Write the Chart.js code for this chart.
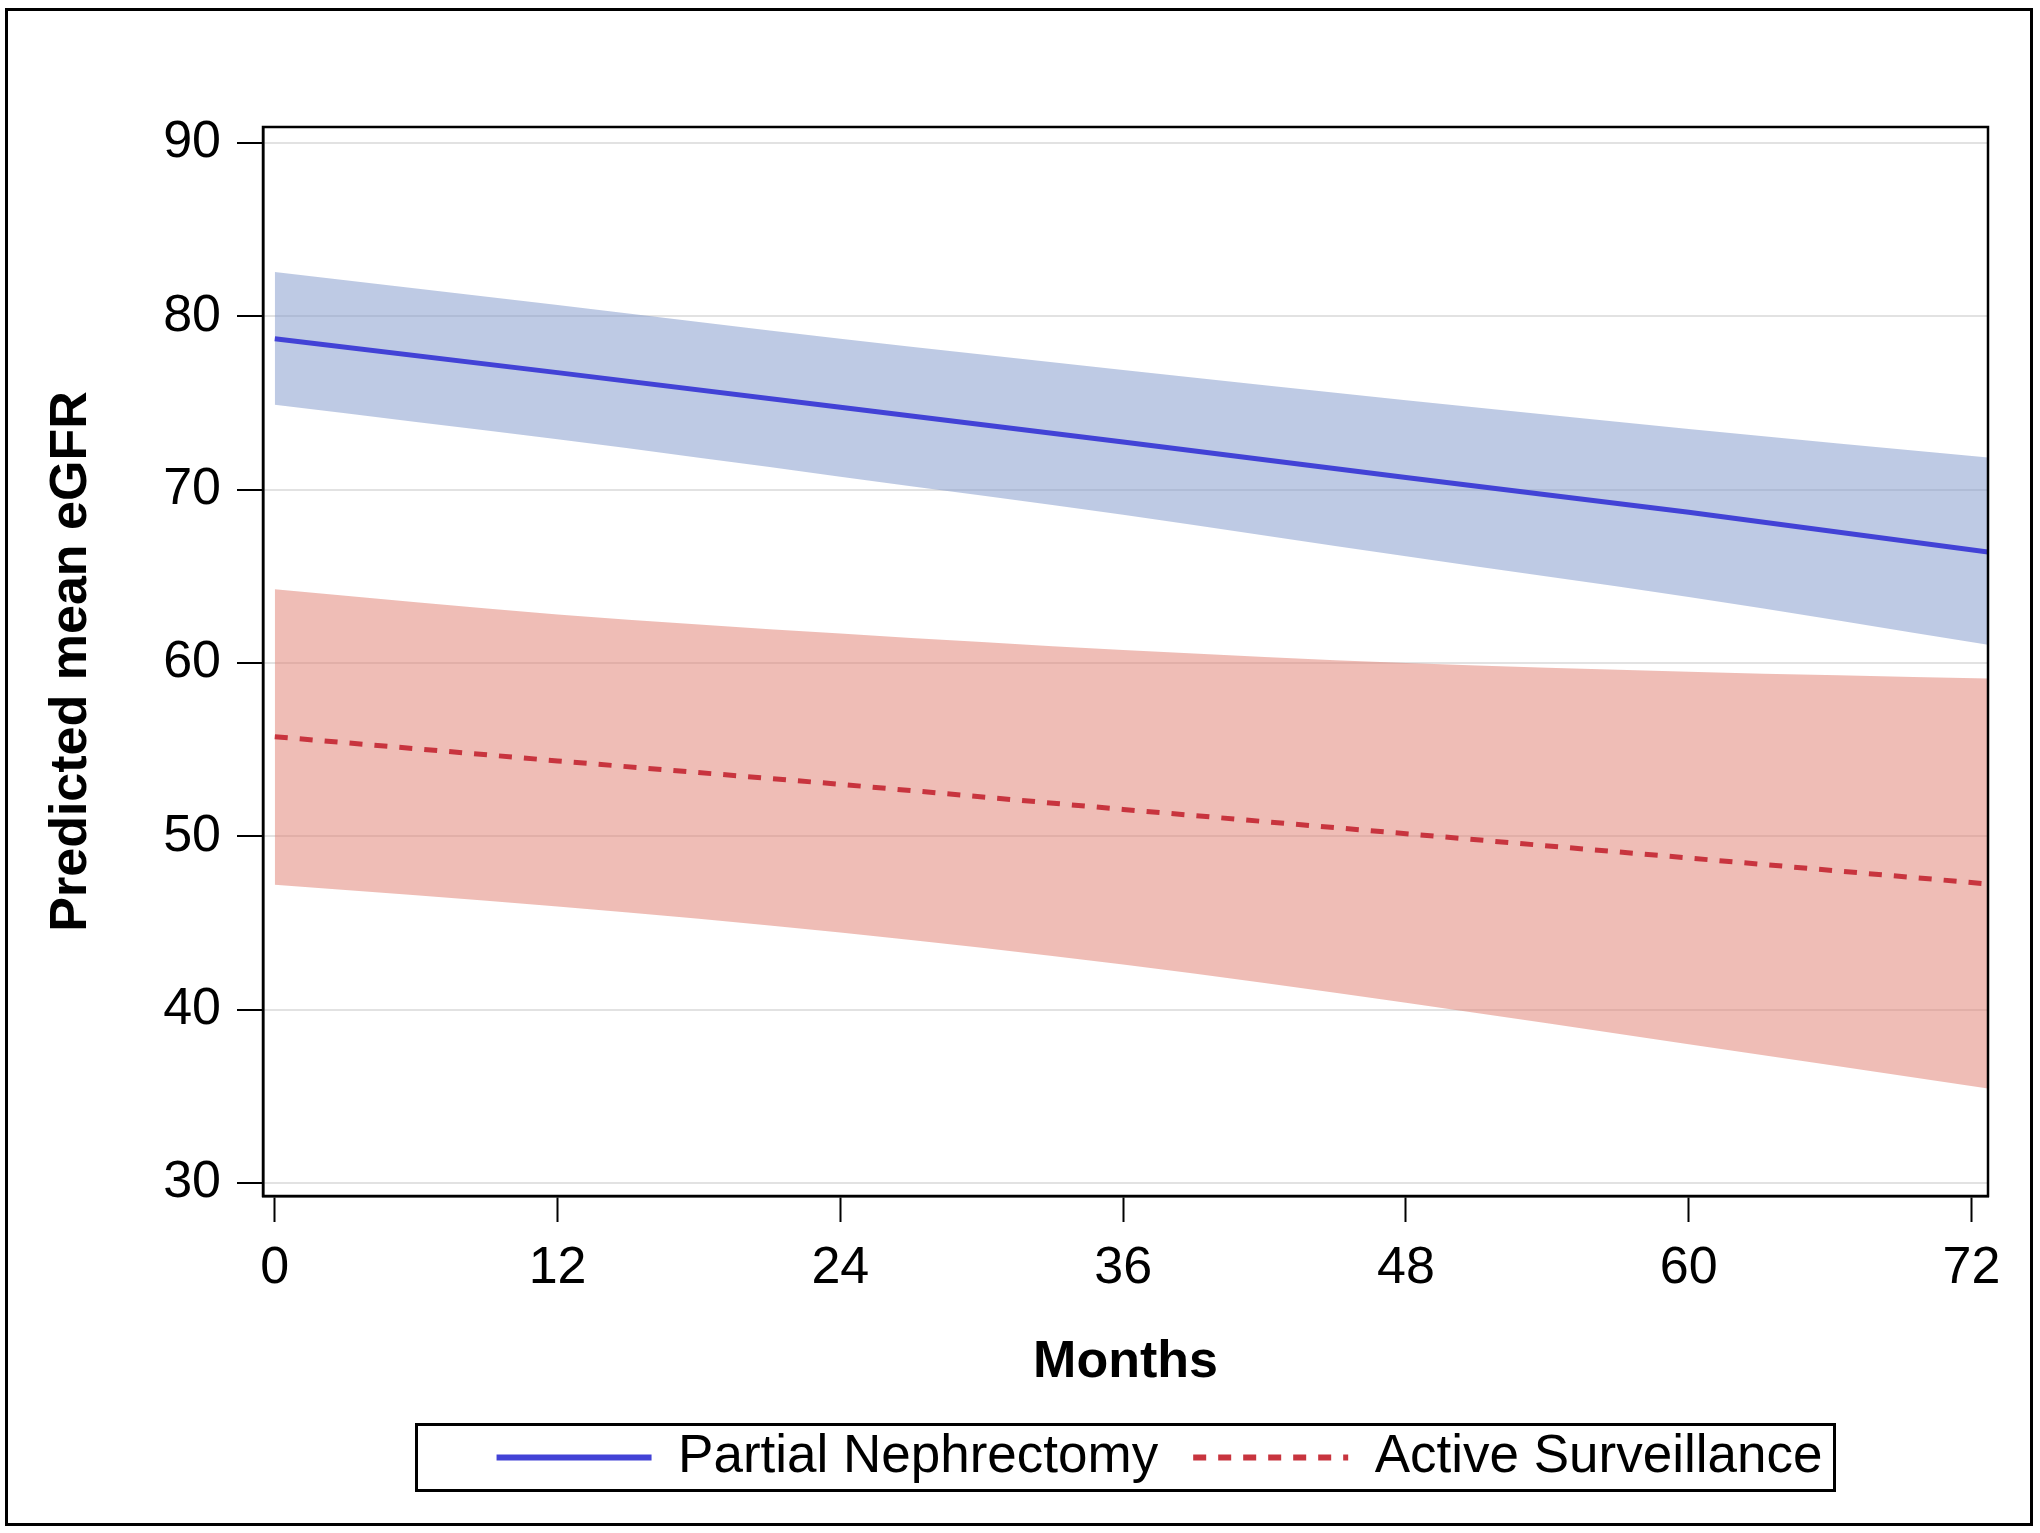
<!DOCTYPE html>
<html>
<head>
<meta charset="utf-8">
<title>Predicted mean eGFR</title>
<script src="https://cdn.jsdelivr.net/npm/chart.js@4.4.1/dist/chart.umd.min.js"></script>
<style>
  html, body { margin: 0; padding: 0; background: #fff; }
  #wrap { position: relative; width: 2040px; height: 1533px; }
</style>
</head>
<body>
<div id="wrap"><canvas id="egfrChart"></canvas></div>
<script>
// months since baseline (last point = end of follow-up)
const months = [0, 12, 24, 36, 48, 60, 72.7];
const xTicks = [0, 12, 24, 36, 48, 60, 72];
const yTicks = [30, 40, 50, 60, 70, 80, 90];

// Partial Nephrectomy: predicted mean eGFR and 95% band
const pnMean  = [78.7, 76.75, 74.75, 72.75, 70.7, 68.7, 66.4];
const pnUpper = [82.55, 80.65, 78.7, 76.9, 75.15, 73.5, 71.85];
const pnLower = [74.9, 72.9, 70.75, 68.55, 66.15, 63.8, 61.05];

// Active Surveillance
const asMean  = [55.75, 54.35, 53.0, 51.55, 50.15, 48.75, 47.25];
const asUpper = [64.25, 62.8, 61.7, 60.75, 60.0, 59.5, 59.1];
const asLower = [47.2, 45.95, 44.45, 42.6, 40.4, 38.0, 35.45];

const FONT = '"Liberation Sans", Arial, Helvetica, sans-serif';

const pts = (arr) => arr.map((v, i) => ({ x: months[i], y: v }));

// frame around plot area + outer border of figure
const framePlugin = {
    id: 'frame',
    beforeDraw(chart) {
        const ctx = chart.ctx;
        ctx.save();
        ctx.fillStyle = '#fff';
        ctx.fillRect(0, 0, chart.width, chart.height);
        ctx.restore();
    },
    afterDatasetsDraw(chart) {
        const { ctx, chartArea: a } = chart;
        ctx.save();
        ctx.strokeStyle = '#000';
        ctx.lineWidth = 2.5;
        ctx.strokeRect(a.left, a.top, a.right - a.left, a.bottom - a.top);
        ctx.restore();
    },
    afterDraw(chart) {
        const ctx = chart.ctx;
        ctx.save();
        ctx.strokeStyle = '#000';
        ctx.lineWidth = 3;
        ctx.strokeRect(6.5, 9.5, 2025, 1515);
        ctx.restore();
    }
};

// shift legend a bit and draw the box round it
const legendBoxPlugin = {
    id: 'legendBox',
    afterLayout(chart) {
        const lg = chart.legend;
        lg.left += 34;
        lg.right += 34;
    },
    afterDraw(chart) {
        const { ctx, chartArea: a } = chart;
        const lg = chart.legend;
        const cx = (a.left + a.right) / 2;
        const cy = lg.top + lg.options.labels.padding + lg.options.labels.font.size / 2;
        ctx.save();
        ctx.strokeStyle = '#000';
        ctx.lineWidth = 3;
        ctx.strokeRect(cx - 709, cy - 33, 1418, 66);
        ctx.restore();
    }
};

const ctx = document.getElementById('egfrChart').getContext('2d');
const chart = new Chart(ctx, {
    type: 'line',
    data: {
        datasets: [{
            label: 'Partial Nephrectomy',
            data: pts(pnMean),
            borderColor: '#4242d6',
            borderWidth: 5,
            pointRadius: 0,
            fill: false
        }, {
            label: 'Active Surveillance',
            data: pts(asMean),
            borderColor: '#c8343e',
            borderWidth: 5,
            borderDash: [13, 12],
            pointRadius: 0,
            fill: false
        }, {
            label: 'pnUpper',
            data: pts(pnUpper),
            borderWidth: 0,
            pointRadius: 0,
            backgroundColor: 'rgba(126, 150, 202, 0.5)',
            cubicInterpolationMode: 'monotone',
            fill: 3
        }, {
            label: 'pnLower',
            data: pts(pnLower),
            borderWidth: 0,
            pointRadius: 0,
            cubicInterpolationMode: 'monotone',
            fill: false
        }, {
            label: 'asUpper',
            data: pts(asUpper),
            borderWidth: 0,
            pointRadius: 0,
            backgroundColor: 'rgba(223, 124, 110, 0.5)',
            cubicInterpolationMode: 'monotone',
            fill: 5
        }, {
            label: 'asLower',
            data: pts(asLower),
            borderWidth: 0,
            pointRadius: 0,
            cubicInterpolationMode: 'monotone',
            fill: false
        }]
    },
    options: {
        responsive: true,
        maintainAspectRatio: false,
        animation: false,
        devicePixelRatio: 1,
        layout: {
            padding: { left: 0, right: 52, top: 127, bottom: 39 }
        },
        plugins: {
            tooltip: { enabled: false },
            legend: {
                position: 'bottom',
                fullSize: false,
                labels: {
                    // only the two mean lines, keep their dash pattern
                    generateLabels: (chart) => Chart.defaults.plugins.legend.labels.generateLabels(chart)
                        .filter(item => item.datasetIndex < 2)
                        .map(item => {
                            const ds = chart.data.datasets[item.datasetIndex];
                            item.lineDash = ds.borderDash || [];
                            item.strokeStyle = ds.borderColor;
                            item.lineWidth = 6;
                            return item;
                        }),
                    usePointStyle: true,
                    pointStyle: 'line',
                    pointStyleWidth: 155,
                    padding: 35,
                    color: '#000',
                    font: { family: FONT, size: 53 }
                }
            }
        },
        scales: {
            x: {
                type: 'linear',
                min: -0.5,
                max: 72.7,
                afterBuildTicks: (scale) => { scale.ticks = xTicks.map(v => ({ value: v })); },
                afterFit: (scale) => { scale.height = 200; },
                grid: {
                    drawOnChartArea: false,
                    drawTicks: true,
                    tickLength: 26,
                    tickWidth: 2,
                    tickColor: '#000'
                },
                border: { display: true, color: '#000', width: 2.5 },
                ticks: {
                    color: '#000',
                    padding: 15,
                    maxRotation: 0,
                    font: { family: FONT, size: 52 }
                },
                title: {
                    display: true,
                    text: 'Months',
                    color: '#000',
                    padding: { top: 0, bottom: 2 },
                    font: { family: FONT, size: 52, weight: 'bold' }
                }
            },
            y: {
                type: 'linear',
                min: 29.25,
                max: 90.92,
                afterBuildTicks: (scale) => { scale.ticks = yTicks.map(v => ({ value: v })); },
                afterFit: (scale) => { scale.width = 263; },
                grid: {
                    color: '#e2e2e2',
                    lineWidth: 2,
                    drawTicks: true,
                    tickLength: 26,
                    tickWidth: 2,
                    tickColor: '#000'
                },
                border: { display: true, color: '#000', width: 2.5 },
                ticks: {
                    color: '#000',
                    padding: 16,
                    font: { family: FONT, size: 52 }
                },
                title: {
                    display: true,
                    text: 'Predicted mean eGFR',
                    color: '#000',
                    padding: { top: 40, bottom: 0 },
                    font: { family: FONT, size: 52, weight: 'bold' }
                }
            }
        }
    },
    plugins: [framePlugin, legendBoxPlugin]
});
</script>
</body>
</html>
